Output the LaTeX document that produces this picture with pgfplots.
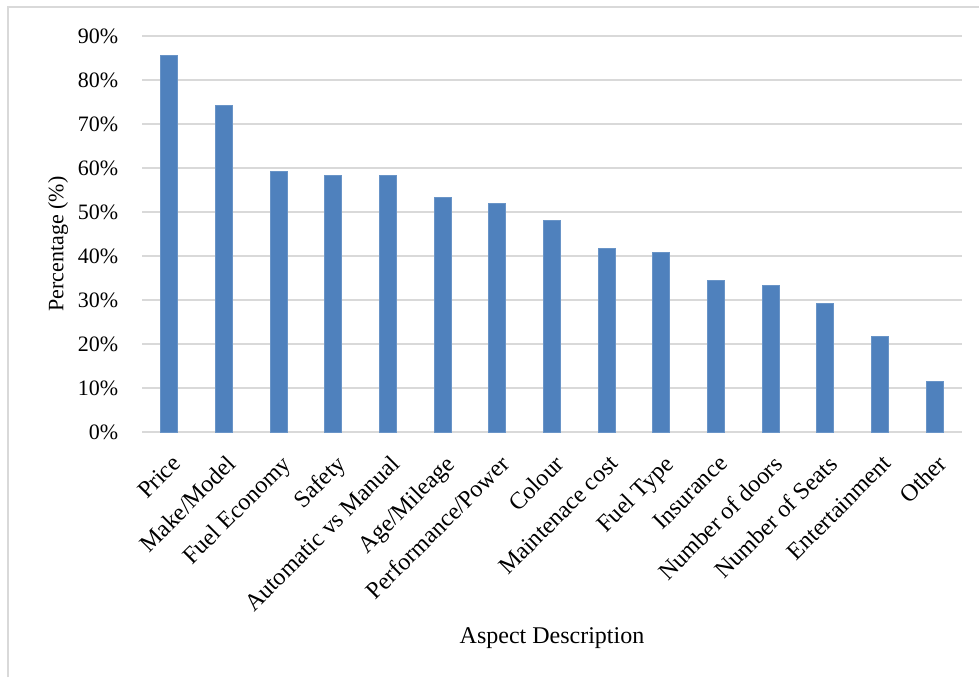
\documentclass[border=0pt]{standalone}
\usepackage{pgfplots}
\pgfplotsset{compat=1.18}
\usepackage{fontspec}
\setmainfont{Liberation Serif}
\definecolor{barblue}{HTML}{4F81BD}
\definecolor{gridgray}{HTML}{D9D9D9}

\begin{document}
\fontsize{11pt}{13pt}\selectfont
\begin{tikzpicture}[x=0.5pt,y=0.5pt]
\useasboundingbox (0,0) rectangle (979,677);
% light frame round the chart (left and top edges only are visible)
\draw[gridgray, line width=1pt] (8,0) -- (8,670.5) -- (979,670.5);
\begin{axis}[
    at={(71pt,122.5pt)}, anchor=south west,
    scale only axis,
    width=410pt, height=198pt,
    xmin=-0.5, xmax=14.5,
    ymin=0, ymax=90,
    ytick={0,10,...,90},
    yticklabel={\pgfmathprintnumber{\tick}\%},
    /pgf/number format/assume math mode=true,
    xtick=data,
    xticklabels={Price, Make/Model, Fuel Economy, Safety, Automatic vs Manual,
        Age/Mileage, Performance/Power, Colour, Maintenace cost, Fuel Type,
        Insurance, Number of doors, Number of Seats, Entertainment, Other},
    xticklabel style={font=\fontsize{12pt}{14pt}\selectfont, rotate=45,
        anchor=north east, inner sep=0pt, xshift=-7pt, yshift=-8pt},
    yticklabel style={xshift=-8pt},
    major tick length=0pt,
    axis line style={draw=none},
    ymajorgrids,
    grid style={gridgray, line width=1pt},
    xlabel={Aspect Description},
    ylabel={Percentage (\%)},
    xlabel style={font=\fontsize{12pt}{14pt}\selectfont,
        at={(axis description cs:0.5,-0.52)}, anchor=center},
    ylabel style={at={(axis description cs:-0.1024,0.475)}, anchor=center},
    ybar, bar width=8.5pt,
    clip=false,
]
\addplot[fill=barblue, draw=barblue!85!white, line width=0.5pt] coordinates {
    (0,85.5) (1,74.1) (2,59.3) (3,58.4) (4,58.4)
    (5,53.2) (6,52.0) (7,48.0) (8,41.6) (9,40.7)
    (10,34.5) (11,33.2) (12,29.1) (13,21.8) (14,11.4)
};
\end{axis}
\end{tikzpicture}
\end{document}
